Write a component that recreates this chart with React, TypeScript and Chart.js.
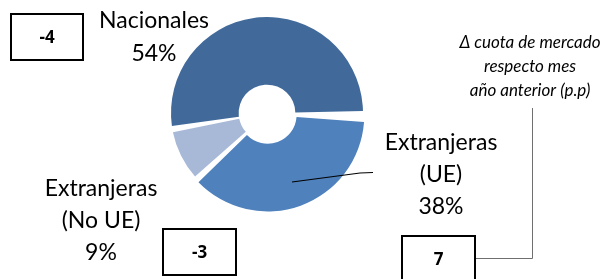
import React, { useEffect, useRef } from "react";
import { Chart, registerables } from "chart.js";

Chart.register(...registerables);

const categories = ["Nacionales", "Extranjeras (UE)", "Extranjeras (No UE)"];
const labelLines = [["Nacionales"], ["Extranjeras", "(UE)"], ["Extranjeras", "(No UE)"]];
const shares = [53.6, 37.8, 8.6];
const deltas = ["-4", "7", "-3"];
const colors = ["#416A9B", "#4F81BD", "#A8B9D8"];
const noteLines = ["Δ cuota de mercado", "respecto mes", "año anterior (p.p)"];

const FONT = "Lato, 'Open Sans', sans-serif";

const overlay = {
  id: "overlay",
  afterDraw(chart: any) {
    const ctx = chart.ctx;
    ctx.save();
    ctx.fillStyle = "#000";
    ctx.textAlign = "center";
    ctx.textBaseline = "middle";
    ctx.font = `23px ${FONT}`;
    const labelPos = [
      { x: 154, y: 21, lh: 33 },
      { x: 441, y: 143, lh: 32 },
      { x: 101, y: 189, lh: 32 },
    ];
    labelPos.forEach((p, i) => {
      const lines = [...labelLines[i], Math.round(shares[i]) + "%"];
      lines.forEach((t, j) => ctx.fillText(t, p.x, p.y + j * p.lh));
    });

    // boxes
    const boxes = [
      { x: 11, y: 14, w: 72, h: 46 },
      { x: 402, y: 236, w: 73, h: 46 },
      { x: 163, y: 229, w: 73, h: 46 },
    ];
    ctx.lineWidth = 2;
    ctx.strokeStyle = "#000";
    ctx.font = `bold 17px 'Open Sans', sans-serif`;
    boxes.forEach((b, i) => {
      ctx.fillStyle = "#fff";
      ctx.fillRect(b.x, b.y, b.w, b.h);
      ctx.strokeRect(b.x, b.y, b.w, b.h);
      ctx.fillStyle = "#000";
      ctx.fillText(deltas[i], b.x + b.w / 2, b.y + b.h / 2 + 1);
    });

    // note
    ctx.font = `italic 17px ${FONT}`;
    ctx.fillStyle = "#000";
    noteLines.forEach((t, j) => ctx.fillText(t, 530, 43 + j * 24));

    // note connector
    ctx.strokeStyle = "#6f6f6f";
    ctx.lineWidth = 1;
    ctx.beginPath();
    ctx.moveTo(476, 258.5);
    ctx.lineTo(532.5, 258.5);
    ctx.lineTo(532.5, 108);
    ctx.stroke();

    // UE label leader
    ctx.strokeStyle = "#000";
    ctx.lineWidth = 1.2;
    ctx.beginPath();
    ctx.moveTo(292, 182);
    ctx.lineTo(360, 173);
    ctx.lineTo(373, 172.5);
    ctx.stroke();
    ctx.restore();
  },
};

export default function App() {
  const ref = useRef<HTMLCanvasElement>(null);
  useEffect(() => {
    if (!ref.current) return;
    const chart = new Chart(ref.current, {
      type: "doughnut",
      data: {
        labels: categories,
        datasets: [
          {
            data: shares,
            backgroundColor: colors,
            borderWidth: 0,
            spacing: 4,
            offset: [0, 8, 0],
          },
        ],
      },
      options: {
        animation: false,
        responsive: true,
        maintainAspectRatio: false,
        rotation: -101,
        cutout: "28%",
        layout: { padding: { left: 167, right: 240, top: 13, bottom: 66 } },
        plugins: { legend: { display: false }, tooltip: { enabled: false } },
      },
      plugins: [overlay],
    });
    return () => chart.destroy();
  }, []);
  return (
    <div style={{ position: "absolute", left: 0, top: 0, width: 607, height: 279 }}>
      <canvas ref={ref} />
    </div>
  );
}
